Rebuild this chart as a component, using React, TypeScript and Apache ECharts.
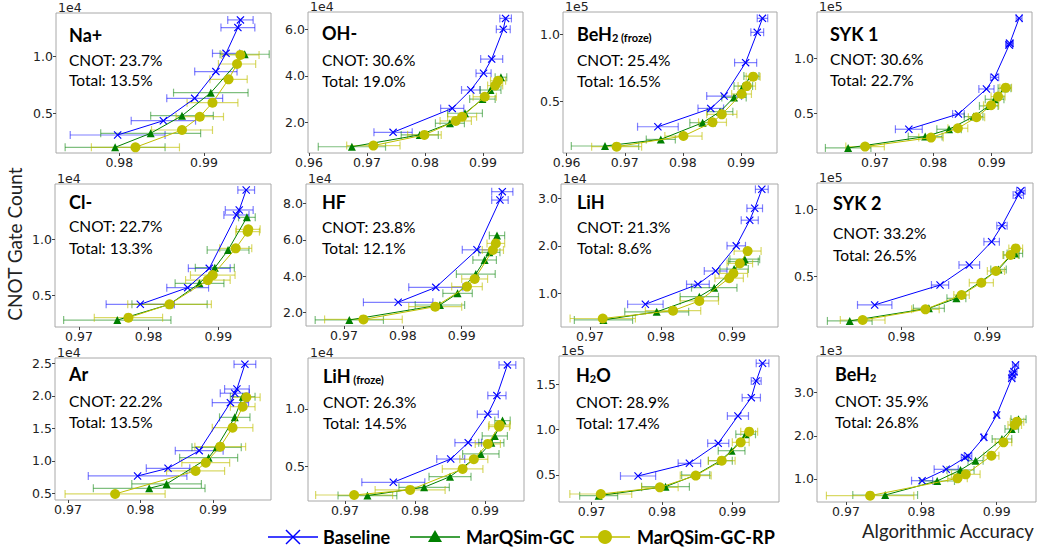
import React, { useEffect, useRef } from 'react';
import * as echarts from 'echarts';

// ---------- data: [accuracy, CNOT count (scaled by exponent), error half-width] ----------
const naBase = [[0.9798,0.309,0.0056],[0.9852,0.435,0.0038],[0.9889,0.632,0.0033],[0.9914,0.868,0.0025],[0.9926,1.029,0.0016],[0.9940,1.256,0.0020],[0.9943,1.324,0.0015]];
const naGC = [[0.9795,0.20,0.0059],[0.9837,0.324,0.0059],[0.9874,0.479,0.0037],[0.9908,0.682,0.0044],[0.9948,1.021,0.0029]];
const naRP = [[0.9819,0.20,0.0052],[0.9874,0.353,0.0036],[0.9895,0.47,0.0028],[0.9910,0.594,0.0030],[0.9929,0.80,0.0022],[0.9939,0.935,0.0022],[0.9943,1.015,0.0022]];

const ohBase = [[0.9745,1.57,0.0033],[0.9847,2.60,0.0020],[0.9879,3.39,0.0016],[0.9901,4.11,0.0013],[0.9915,4.72,0.0019],[0.9935,6.00,0.0012],[0.9939,6.47,0.0010]];
const ohGC = [[0.9674,0.95,0.0058],[0.9791,1.46,0.0032],[0.9843,1.96,0.0025],[0.9869,2.39,0.0030],[0.9899,3.00,0.0022],[0.9913,3.39,0.0018],[0.9931,3.94,0.0010]];
const ohRP = [[0.9711,1.00,0.0046],[0.9799,1.46,0.0029],[0.9853,2.06,0.0027],[0.9864,2.24,0.0025],[0.9903,3.10,0.0020],[0.9921,3.58,0.0013],[0.9926,3.79,0.0013]];

const befBase = [[0.9757,0.314,0.0035],[0.9848,0.45,0.0022],[0.9871,0.542,0.0030],[0.9908,0.79,0.0019],[0.9928,1.015,0.0011],[0.9937,1.119,0.0009]];
const befGC = [[0.9666,0.171,0.0058],[0.9762,0.22,0.0025],[0.9834,0.344,0.0022],[0.9864,0.426,0.0022],[0.9888,0.532,0.0021],[0.9904,0.616,0.0016],[0.9918,0.69,0.0013]];
const befRP = [[0.9686,0.166,0.0043],[0.9801,0.245,0.0032],[0.9851,0.347,0.0024],[0.9867,0.406,0.0026],[0.9901,0.557,0.0017],[0.9910,0.616,0.0015],[0.9921,0.686,0.0012]];

const syk1Base = [[0.9758,0.355,0.0023],[0.9843,0.494,0.0010],[0.9891,0.721,0.0013],[0.9905,0.827,0.0007],[0.9930,1.121,0.0006],[0.9931,1.136,0.0006],[0.9947,1.364,0.0005]];
const syk1GC = [[0.9654,0.185,0.0039],[0.9786,0.288,0.0029],[0.9827,0.355,0.0021],[0.9869,0.47,0.0016],[0.9895,0.567,0.0016],[0.9905,0.627,0.0016],[0.9922,0.727,0.0011]];
const syk1RP = [[0.9683,0.197,0.0033],[0.9796,0.279,0.0021],[0.9842,0.364,0.0017],[0.9874,0.464,0.0014],[0.9899,0.573,0.0013],[0.9911,0.652,0.0012],[0.9924,0.733,0.0010]];

const clBase = [[0.9788,0.424,0.0049],[0.9856,0.571,0.0030],[0.9887,0.741,0.0030],[0.9926,1.212,0.0018],[0.9930,1.256,0.0020],[0.9940,1.432,0.0012]];
const clGC = [[0.9755,0.285,0.0077],[0.9830,0.424,0.0054],[0.9873,0.609,0.0035],[0.9895,0.747,0.0028],[0.9914,0.903,0.0030],[0.9941,1.191,0.0012]];
const clRP = [[0.9771,0.306,0.0049],[0.9830,0.424,0.0060],[0.9885,0.638,0.0032],[0.9892,0.682,0.0032],[0.9925,0.918,0.0023],[0.9942,1.065,0.0017],[0.9943,1.085,0.0017]];

const hfBase = [[0.9792,2.57,0.0059],[0.9856,3.39,0.0046],[0.9926,5.45,0.0025],[0.9965,8.18,0.0014],[0.9969,8.64,0.0018]];
const hfGC = [[0.9709,1.60,0.0058],[0.9863,2.42,0.0042],[0.9893,3.06,0.0025],[0.9924,4.12,0.0033],[0.9939,4.89,0.0020],[0.9947,5.31,0.0018],[0.9960,6.23,0.0013]];
const hfRP = [[0.9733,1.63,0.0066],[0.9855,2.33,0.0045],[0.9909,3.43,0.0026],[0.9922,3.85,0.0022],[0.9953,5.44,0.0018],[0.9958,5.80,0.0015]];

const lihBase = [[0.9778,0.77,0.0025],[0.9852,1.19,0.0016],[0.9877,1.47,0.0016],[0.9906,2.00,0.0013],[0.9925,2.54,0.0012],[0.9932,2.79,0.0011],[0.9942,3.19,0.0009]];
const lihGC = [[0.9719,0.44,0.0041],[0.9794,0.61,0.0045],[0.9854,0.93,0.0027],[0.9875,1.12,0.0032],[0.9903,1.51,0.0020],[0.9916,1.67,0.0021],[0.9918,1.72,0.0021]];
const lihRP = [[0.9718,0.47,0.0046],[0.9817,0.635,0.0039],[0.9854,0.84,0.0027],[0.9896,1.32,0.0020],[0.9902,1.42,0.0020],[0.9911,1.63,0.0018],[0.9922,1.89,0.0019]];

const syk2Base = [[0.9769,0.29,0.0020],[0.9845,0.438,0.0010],[0.9879,0.587,0.0012],[0.9905,0.76,0.0009],[0.9917,0.879,0.0006],[0.9936,1.106,0.0006],[0.9939,1.139,0.0005]];
const syk2GC = [[0.9740,0.171,0.0026],[0.9832,0.265,0.0018],[0.9864,0.339,0.0011],[0.9913,0.554,0.0009],[0.9928,0.661,0.0009],[0.9932,0.673,0.0009]];
const syk2RP = [[0.9755,0.178,0.0026],[0.9828,0.257,0.0016],[0.9870,0.364,0.0009],[0.9893,0.455,0.0014],[0.9910,0.542,0.0010],[0.9927,0.661,0.0009],[0.9933,0.71,0.0008]];

const arBase = [[0.9796,0.767,0.0068],[0.9838,0.885,0.0030],[0.9881,1.156,0.0033],[0.9924,1.895,0.0025],[0.9930,2.04,0.0020],[0.9933,2.105,0.0017],[0.9944,2.485,0.0015]];
const arGC = [[0.9812,0.577,0.0077],[0.9836,0.644,0.0048],[0.9894,1.049,0.0040],[0.9905,1.208,0.0034],[0.9930,1.669,0.0021],[0.9941,1.987,0.0017]];
const arRP = [[0.9765,0.49,0.0069],[0.9876,0.844,0.0040],[0.9890,0.972,0.0033],[0.9910,1.218,0.0035],[0.9927,1.51,0.0028],[0.9941,1.833,0.0017],[0.9946,1.977,0.0019]];

const lifBase = [[0.9769,0.364,0.0045],[0.9851,0.566,0.0020],[0.9876,0.708,0.0019],[0.9904,0.954,0.0015],[0.9917,1.116,0.0013],[0.9932,1.382,0.0012]];
const lifGC = [[0.9732,0.249,0.0042],[0.9813,0.321,0.0036],[0.9850,0.413,0.0030],[0.9894,0.61,0.0026],[0.9909,0.708,0.0018],[0.9914,0.766,0.0018],[0.9925,0.899,0.0011]];
const lifRP = [[0.9713,0.254,0.0055],[0.9793,0.298,0.0050],[0.9868,0.48,0.0029],[0.9884,0.564,0.0020],[0.9904,0.697,0.0018],[0.9920,0.847,0.0015],[0.9921,0.861,0.0015]];

const h2oBase = [[0.9766,0.489,0.0025],[0.9839,0.629,0.0016],[0.9880,0.849,0.0015],[0.9908,1.151,0.0015],[0.9927,1.353,0.0013],[0.9934,1.537,0.0007],[0.9943,1.732,0.0009]];
const h2oGC = [[0.9710,0.272,0.0027],[0.9805,0.371,0.0034],[0.9848,0.50,0.0020],[0.9883,0.658,0.0017],[0.9899,0.768,0.0019],[0.9919,0.949,0.0014]];
const h2oRP = [[0.9713,0.29,0.0044],[0.9797,0.364,0.0026],[0.9848,0.493,0.0022],[0.9885,0.658,0.0019],[0.9912,0.86,0.0012],[0.9924,0.978,0.0012]];

const behBase = [[0.9801,0.961,0.0014],[0.9833,1.224,0.0016],[0.9858,1.494,0.0005],[0.9862,1.533,0.0005],[0.9883,1.965,0.0003],[0.9900,2.483,0.0003],[0.9920,3.332,0.0004],[0.9921,3.425,0.0004],[0.9923,3.486,0.0004],[0.9925,3.641,0.0004]];
const behGC = [[0.9752,0.629,0.0043],[0.9821,0.954,0.0023],[0.9852,1.209,0.0018],[0.9872,1.425,0.0010],[0.9907,1.927,0.0013],[0.9920,2.158,0.0009],[0.9929,2.382,0.0010]];
const behRP = [[0.9732,0.614,0.0058],[0.9848,1.015,0.0013],[0.9859,1.108,0.0019],[0.9893,1.54,0.0010],[0.9909,1.849,0.0011],[0.9924,2.251,0.0009],[0.9927,2.328,0.0009]];

const PANEL_DATA = [
  [naBase, naGC, naRP], [ohBase, ohGC, ohRP], [befBase, befGC, befRP], [syk1Base, syk1GC, syk1RP],
  [clBase, clGC, clRP], [hfBase, hfGC, hfRP], [lihBase, lihGC, lihRP], [syk2Base, syk2GC, syk2RP],
  [arBase, arGC, arRP], [lifBase, lifGC, lifRP], [h2oBase, h2oGC, h2oRP], [behBase, behGC, behRP],
];

const NAMES = ['{b|Na+}', '{b|OH-}', '{b|BeH}{s|2 (froze)}', '{b|SYK 1}', '{b|Cl-}', '{b|HF}', '{b|LiH}', '{b|SYK 2}', '{b|Ar}', '{b|LiH}{s| (froze)}', '{b|H}{s|2}{b|O}', '{b|BeH}{s|2}'];
const CNOT_PCT = ['23.7', '30.6', '25.4', '30.6', '22.7', '23.8', '21.3', '33.2', '22.2', '26.3', '28.9', '35.9'];
const TOTAL_PCT = ['13.5', '19.0', '16.5', '22.7', '13.3', '12.1', '8.6', '26.5', '13.5', '14.5', '17.4', '26.8'];
const EXPONENTS = ['1e4', '1e4', '1e5', '1e5', '1e4', '1e4', '1e4', '1e5', '1e4', '1e4', '1e5', '1e3'];

const X_TICKS = [
  [0.98, 0.99], [0.96, 0.97, 0.98, 0.99], [0.96, 0.97, 0.98, 0.99], [0.96, 0.97, 0.98, 0.99],
  [0.97, 0.98, 0.99], [0.97, 0.98, 0.99], [0.97, 0.98, 0.99], [0.98, 0.99],
  [0.97, 0.98, 0.99], [0.97, 0.98, 0.99], [0.97, 0.98, 0.99], [0.97, 0.98, 0.99],
];
const Y_TICKS = [
  [0.5, 1.0], [2, 4, 6], [0.5, 1.0], [0.5, 1.0],
  [0.5, 1.0], [2, 4, 6, 8], [1, 2, 3], [0.5, 1.0],
  [0.5, 1.0, 1.5, 2.0, 2.5], [0.5, 1.0], [0.5, 1.0, 1.5], [1, 2, 3],
];
const X_RANGE = [
  [0.97252, 0.99791], [0.95983, 0.9969], [0.95937, 0.9962], [0.96006, 0.99691],
  [0.96656, 0.99756], [0.96354, 1.00042], [0.96592, 0.99648], [0.97019, 0.99531],
  [0.96821, 0.998], [0.96471, 0.99557], [0.96536, 0.99664], [0.96615, 0.99522],
];
const Y_RANGE = [
  [0.15, 1.385], [0.681, 6.746], [0.119, 1.166], [0.139, 1.421],
  [0.224, 1.485], [1.269, 9.061], [0.291, 3.302], [0.126, 1.196],
  [0.397, 2.582], [0.202, 1.442], [0.202, 1.8125], [0.467, 3.849],
];

// ---------- layout ----------
const BOX = [
  [56, 13, 215, 140], [308, 12, 215, 141], [563, 12, 214, 141], [817, 12, 215, 141],
  [55, 184, 216, 143], [306, 184, 217, 142], [561, 184, 217, 143], [817, 183, 216, 144],
  [55, 358, 216, 142], [308, 358, 216, 143], [559, 356, 220, 146], [817, 356, 219, 146],
];
// [dx, name baseline, CNOT baseline, Total baseline] relative to box
const TEXT_POS = [
  [13, 27.5, 52.5, 73], [14, 27, 54, 75], [14, 28, 54, 75], [13, 28, 53, 74],
  [14, 24, 48, 69.5], [16, 24, 49, 70], [16, 24, 49, 70], [16, 26, 56, 77.5],
  [14, 22, 49, 70], [15, 24, 50, 71], [17, 25, 52, 73], [18, 24, 51, 72],
];

const X_PATH = 'path://M0,1L1,0L5,4L9,0L10,1L6,5L10,9L9,10L5,6L1,10L0,9L4,5Z';
const STYLES = [
  { name: 'Baseline', color: '#0000ff', err: 'rgba(0,0,255,0.5)', symbol: X_PATH, size: 8 },
  { name: 'MarQSim-GC', color: '#008000', err: 'rgba(0,128,0,0.5)', symbol: 'triangle', size: 8 },
  { name: 'MarQSim-GC-RP', color: '#bfbf00', err: 'rgba(191,191,0,0.6)', symbol: 'circle', size: 10 },
];

const LATO = 'Lato, "Open Sans", sans-serif';
const DEJAVU = '"DejaVu Sans", sans-serif';

function buildOption() {
  const grid: any[] = [];
  const xAxis: any[] = [];
  const yAxis: any[] = [];
  const series: any[] = [];
  const graphic: any[] = [];

  BOX.forEach((b, i) => {
    const [left, top, width, height] = b;
    grid.push({ left, top, width, height, show: true, borderColor: '#a8a8a8', borderWidth: 1, backgroundColor: 'transparent', containLabel: false, outerBoundsMode: 'none' });
    xAxis.push({
      type: 'value', gridIndex: i, min: X_RANGE[i][0], max: X_RANGE[i][1],
      axisLine: { show: false }, splitLine: { show: false },
      axisTick: { show: true, length: 3, lineStyle: { color: '#444' }, customValues: X_TICKS[i] },
      axisLabel: { show: true, customValues: X_TICKS[i], formatter: (v: number) => v.toFixed(2), color: '#222', fontFamily: DEJAVU, fontSize: 12.5, margin: 3 },
    });
    yAxis.push({
      type: 'value', gridIndex: i, min: Y_RANGE[i][0], max: Y_RANGE[i][1],
      axisLine: { show: false }, splitLine: { show: false },
      axisTick: { show: true, length: 3, lineStyle: { color: '#444' }, customValues: Y_TICKS[i] },
      axisLabel: { show: true, customValues: Y_TICKS[i], formatter: (v: number) => v.toFixed(1), color: '#222', fontFamily: DEJAVU, fontSize: 12.5, margin: 3 },
    });

    PANEL_DATA[i].forEach((data, k) => {
      const st = STYLES[k];
      series.push({
        type: 'custom', name: st.name, xAxisIndex: i, yAxisIndex: i, z: 1,
        data, encode: { x: 0, y: 1 },
        renderItem: (params: any, api: any) => {
          const x = api.value(0), y = api.value(1), e = api.value(2);
          const p1 = api.coord([x - e, y]);
          const p2 = api.coord([x + e, y]);
          const s = { stroke: st.err, lineWidth: 1.2 };
          return {
            type: 'group', children: [
              { type: 'line', shape: { x1: p1[0], y1: p1[1], x2: p2[0], y2: p2[1] }, style: s },
              { type: 'line', shape: { x1: p1[0], y1: p1[1] - 4, x2: p1[0], y2: p1[1] + 4 }, style: s },
              { type: 'line', shape: { x1: p2[0], y1: p2[1] - 4, x2: p2[0], y2: p2[1] + 4 }, style: s },
            ],
          };
        },
      });
    });
    PANEL_DATA[i].forEach((data, k) => {
      const st = STYLES[k];
      series.push({
        type: 'line', name: st.name, xAxisIndex: i, yAxisIndex: i, z: 2 + k,
        data: data.map((d) => [d[0], d[1]]),
        symbol: st.symbol, symbolSize: st.size,
        lineStyle: { color: st.color, width: 1 },
        itemStyle: { color: st.color },
        emphasis: { disabled: true },
      });
    });

    const tp = TEXT_POS[i];
    graphic.push({
      type: 'text', x: left + 2, y: top - 6,
      style: { text: EXPONENTS[i], fill: '#222', font: `12.5px ${DEJAVU}`, align: 'left', verticalAlign: 'middle' },
    });
    graphic.push({
      type: 'text', x: left + tp[0], y: top + tp[1] - 7,
      style: {
        text: NAMES[i], align: 'left', verticalAlign: 'middle', fill: '#000',
        rich: {
          b: { fontFamily: LATO, fontWeight: 'bold', fontSize: 18, lineHeight: 20, verticalAlign: 'bottom', fill: '#000' },
          s: { fontFamily: LATO, fontWeight: 'bold', fontSize: 11, lineHeight: 12, verticalAlign: 'bottom', fill: '#000' },
        },
      },
    });
    graphic.push({
      type: 'text', x: left + tp[0], y: top + tp[2] - 6,
      style: { text: `CNOT: ${CNOT_PCT[i]}%`, fill: '#000', font: `15.5px ${LATO}`, align: 'left', verticalAlign: 'middle' },
    });
    graphic.push({
      type: 'text', x: left + tp[0], y: top + tp[3] - 6,
      style: { text: `Total: ${TOTAL_PCT[i]}%`, fill: '#000', font: `15.5px ${LATO}`, align: 'left', verticalAlign: 'middle' },
    });
  });

  // axis titles
  graphic.push({
    type: 'text', x: 14, y: 244, rotation: Math.PI / 2,
    style: { text: 'CNOT Gate Count', fill: '#222', font: `19px ${LATO}`, align: 'center', verticalAlign: 'middle' },
  });
  graphic.push({
    type: 'text', x: 948, y: 531,
    style: { text: 'Algorithmic Accuracy', fill: '#222', font: `18.5px ${LATO}`, align: 'center', verticalAlign: 'middle' },
  });

  // legend
  const ly = 537;
  graphic.push({ type: 'line', shape: { x1: 268, y1: ly, x2: 318, y2: ly }, style: { stroke: '#0000ff', lineWidth: 1.5 } });
  graphic.push({ type: 'line', shape: { x1: 286, y1: ly - 7, x2: 300, y2: ly + 7 }, style: { stroke: '#0000ff', lineWidth: 1.5 } });
  graphic.push({ type: 'line', shape: { x1: 286, y1: ly + 7, x2: 300, y2: ly - 7 }, style: { stroke: '#0000ff', lineWidth: 1.5 } });
  graphic.push({ type: 'text', x: 323, y: ly, style: { text: 'Baseline', fill: '#000', font: `bold 18px ${LATO}`, align: 'left', verticalAlign: 'middle' } });

  graphic.push({ type: 'line', shape: { x1: 410, y1: ly, x2: 460, y2: ly }, style: { stroke: '#008000', lineWidth: 1.5 } });
  graphic.push({ type: 'polygon', shape: { points: [[435, ly - 7], [442, ly + 5], [428, ly + 5]] }, style: { fill: '#008000' } });
  graphic.push({ type: 'text', x: 466, y: ly, style: { text: 'MarQSim-GC', fill: '#000', font: `bold 18px ${LATO}`, align: 'left', verticalAlign: 'middle' } });

  graphic.push({ type: 'line', shape: { x1: 580, y1: ly, x2: 630, y2: ly }, style: { stroke: '#bfbf00', lineWidth: 1.5 } });
  graphic.push({ type: 'circle', shape: { cx: 605, cy: ly, r: 7 }, style: { fill: '#bfbf00' } });
  graphic.push({ type: 'text', x: 637, y: ly, style: { text: 'MarQSim-GC-RP', fill: '#000', font: `bold 18px ${LATO}`, align: 'left', verticalAlign: 'middle' } });

  return { animation: false, backgroundColor: '#ffffff', grid, xAxis, yAxis, series, graphic };
}

export default function App() {
  const ref = useRef<HTMLDivElement>(null);
  useEffect(() => {
    if (!ref.current) return;
    const chart = echarts.init(ref.current, undefined, { renderer: 'svg' });
    chart.setOption(buildOption() as any);
    return () => chart.dispose();
  }, []);
  return <div ref={ref} style={{ position: 'absolute', left: 0, top: 0, width: 1055, height: 553, background: '#fff' }} />;
}
